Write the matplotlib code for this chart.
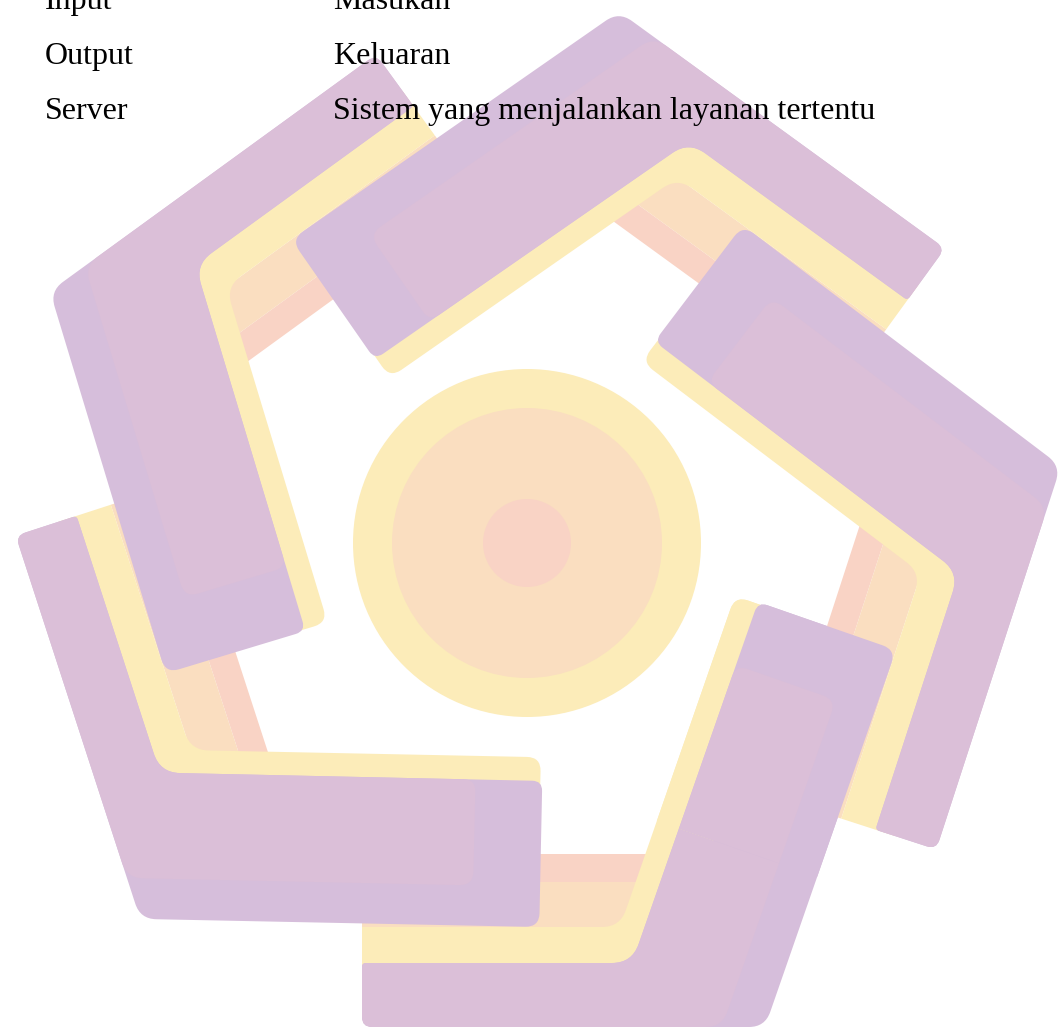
import numpy as np
import matplotlib
matplotlib.use('Agg')
import matplotlib.pyplot as plt
from matplotlib.path import Path
from matplotlib.patches import PathPatch, Circle

# glossary rows
terms = ['Input', 'Output', 'Server']
meanings = ['Masukan', 'Keluaran', 'Sistem yang menjalankan layanan tertentu']
baselines = [9, 64, 119]
term_x = 45
meaning_x = 333

# watermark logo (pixel coordinates of the page, y downwards)
center = (527, 543)
circle_radii = [174, 135, 44]
circle_colors = ['#FCECB9', '#FADEC0', '#F9D3C5']

# one arm (the lower right one); the other four are copies turned by 72 degrees
pink_bar = [(362, 854), (362, 882), (655, 882), (655, 854)]
peach_bar = [(362, 882), (362, 927), (655, 927), (655, 882)]
yellow_band = [(362, 927), (362, 985), (663, 985), (792, 616), (735, 596), (620, 927)]
purple_outer = [(362, 963), (362, 1027), (765, 1027), (896, 650), (758, 602), (632, 963)]
purple_inner = [(362, 963), (362, 1027), (722, 1027), (836, 700), (736, 665), (632, 963)]

arm_layers = [
    (pink_bar, [0, 0, 6, 6], '#F9D3C5'),
    (peach_bar, [0, 0, 6, 6], '#FADEC0'),
    (yellow_band, [0, 4, 10, 10, 14, 18], '#FCECB9'),
    (purple_outer, [4, 10, 16, 14, 10, 20], '#D6BEDB'),
    (purple_inner, [4, 10, 16, 14, 12, 20], '#DBBFD8'),
]

n_vec = np.array([0.945, 0.328])
u_vec = np.array([0.328, -0.945])
head_clip = [(700, -560), (1200, -560), (1200, -200), (700, -200)]


def rounded_path(pts, radii):
    pts = np.asarray(pts, float)
    n = len(pts)
    verts, codes = [], []
    for i in range(n):
        p0, p1, p2 = pts[i - 1], pts[i], pts[(i + 1) % n]
        d1, d2 = p0 - p1, p2 - p1
        l1, l2 = np.hypot(*d1), np.hypot(*d2)
        r = min(radii[i], l1 / 2, l2 / 2)
        a = p1 + d1 / l1 * r
        b = p1 + d2 / l2 * r
        verts.append(a)
        codes.append(Path.MOVETO if i == 0 else Path.LINETO)
        verts += [p1, b]
        codes += [Path.CURVE3, Path.CURVE3]
    verts.append(verts[0])
    codes.append(Path.CLOSEPOLY)
    return Path(verts, codes)


def turn(pts, k):
    a = np.deg2rad(72 * k)
    c, s = np.cos(a), np.sin(a)
    p = np.asarray(pts, float) - center
    return np.column_stack([center[0] + p[:, 0] * c - p[:, 1] * s,
                            center[1] + p[:, 0] * s + p[:, 1] * c])


def draw_arm(ax, k, clip=None):
    for pts, radii, color in arm_layers:
        patch = PathPatch(rounded_path(turn(pts, k), radii), facecolor=color,
                          edgecolor='none', zorder=2)
        ax.add_patch(patch)
        if clip is not None:
            patch.set_clip_path(clip)


fig = plt.figure(figsize=(10.62, 10.31), dpi=100)
ax = fig.add_axes([0, 0, 1, 1])
ax.set_xlim(0, 1062)
ax.set_ylim(1031, 0)
ax.axis('off')

for r, col in zip(circle_radii, circle_colors):
    ax.add_patch(Circle(center, r, facecolor=col, edgecolor='none', zorder=1))

for k in range(5):
    draw_arm(ax, k)

# the first arm's head lies over the tail of the last one
clip_pts = [nn * n_vec + uu * u_vec for nn, uu in head_clip]
clip_patch = PathPatch(Path(clip_pts + [clip_pts[0]], closed=True), transform=ax.transData)
draw_arm(ax, 0, clip=clip_patch)

for t, m, y in zip(terms, meanings, baselines):
    ax.text(term_x, y, t, fontsize=23, family='Liberation Serif', va='baseline',
            color='black', zorder=5)
    ax.text(meaning_x, y, m, fontsize=23, family='Liberation Serif', va='baseline',
            color='black', zorder=5)

fig.savefig('out.png', dpi=100)
